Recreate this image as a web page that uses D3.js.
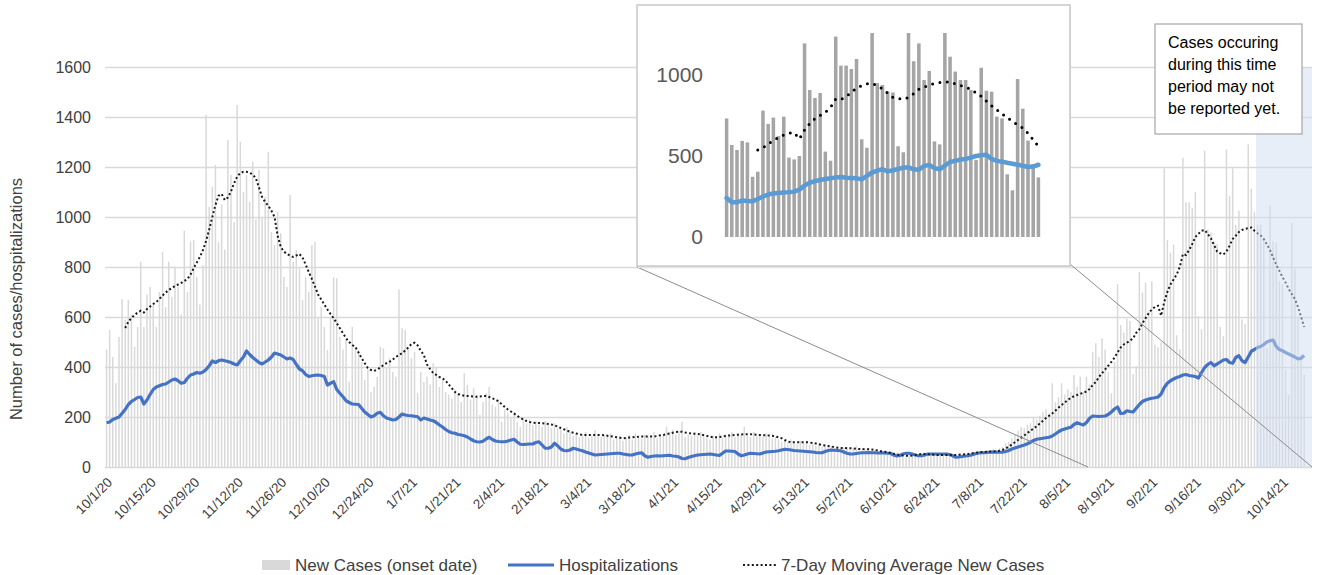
<!DOCTYPE html>
<html>
  <head>
    <meta charset="utf-8">
    <script src="https://cdn.jsdelivr.net/npm/d3@7"></script>
    <style>
      body { margin: 0; background: #ffffff; }
      text { font-family: "Liberation Sans", Arial, sans-serif; }
    </style>
  </head>
  <body>
    <svg width="1319" height="575" id="mainsvg"></svg>
    <script>
        // ---- data, day 0 = 10/1/20 ----
        const tickLabels = ['10/1/20','10/15/20','10/29/20','11/12/20','11/26/20','12/10/20','12/24/20',
            '1/7/21','1/21/21','2/4/21','2/18/21','3/4/21','3/18/21','4/1/21','4/15/21','4/29/21',
            '5/13/21','5/27/21','6/10/21','6/24/21','7/8/21','7/22/21','8/5/21','8/19/21','9/2/21',
            '9/16/21','9/30/21','10/14/21'];
        const tickStep = 14;
        const axisDays = 388;

        const newCases = [
            470,548,440,335,520,671,590, 668,610,480,560,821,560,690, 720,650,560,700,861,640,821,
            680,801,720,610,945,700,901, 908,760,650,808,1408,1041,1121, 1208,899,1050,870,1308,1168,980,
            1448,1301,1100,1168,1060,1221,990, 1188,995,1080,1261,940,888,1021, 935,760,720,1088,820,868,795,
            668,760,700,888,901,600,641, 560,468,600,759,755,520,470, 508,341,560,480,468,420,348,
            390,300,321,360,481,475,400, 435,380,361,711,555,548,470, 435,460,295,380,340,361,330,
            415,401,320,348,300,290,275, 310,295,260,375,328,270,315, 290,208,260,295,320,250,241,
            270,181,230,215,195,220,180, 161,200,175,190,168,185,170, 160,185,170,155,175,155,150,
            135,160,140,125,135,120,130, 140,118,125,148,130,120,128, 120,135,110,115,125,105,118,
            128,110,135,120,115,130,125, 118,140,115,130,125,161,140, 150,130,145,181,120,130,125,
            140,125,141,120,115,110,125, 120,135,115,130,125,140,120, 135,130,161,125,120,140,125,
            130,120,135,125,115,120,110, 100,105,95,110,100,90,105, 95,105,90,100,85,95,80,
            90,80,85,75,82,70,78, 80,70,75,85,65,72,70, 75,65,70,60,68,55,62,
            58,50,55,45,48,42,50, 45,52,48,55,50,45,52, 48,50,45,52,48,44,50,
            46,52,50,55,52,58,62, 60,65,62,68,64,72,70, 75,80,95,100,115,130,145,
            160,155,168,175,201,190,205, 220,230,215,335,260,280,335, 290,310,300,368,320,
            361,300,361,330,461,495,440,515,470,380,295,420,
            732,568,537,593,584,372,403,780,698,737,623,743,490,479,500,1195,907,858,889,527,471,
            1237,1058,1058,1037,1099,603,551,1265,950,938,898,892,560,523,1270,1085,1195,969,1025,590,
            572,1290,1113,1021,969,969,907,475,1045,903,897,743,732,387,288,975,792,595,450,368
        ];

        const hospitalizations = [
            177,180,190,195,200,215,230,250,262,270, 278,280,252,268,290,310,320,325,330,332,
            340,348,352,345,335,338,355,368,372,378, 375,380,390,405,424,418,425,428,425,422,
            418,412,408,425,440,464,450,438,428,418, 412,420,428,440,456,452,448,440,432,436,
            430,410,392,385,370,362,365,367,368,366, 362,328,335,341,310,295,281,265,258,252,
            251,250,235,220,210,200,205,215,219,205, 196,192,188,190,200,212,208,206,205,203,
            201,188,196,192,188,185,178,168,160,150, 142,137,135,130,128,125,120,112,105,101,
            100,103,112,119,110,104,102,101,101,104, 108,111,100,91,90,91,92,92,98,101,
            88,75,75,80,95,85,72,66,65,68, 75,72,68,65,60,56,52,48,49,50,
            51,52,53,54,55,55,52,50,48,48, 52,55,57,45,39,42,44,45,44,45,
            46,47,44,43,40,34,33,38,42,45, 48,49,50,51,52,50,48,46,55,64,
            64,63,62,52,45,48,52,55,54,53, 52,56,60,61,62,63,65,68,71,70,
            68,66,65,64,63,62,61,60,58,57, 57,62,66,68,67,66,65,60,55,52,
            52,54,56,57,57,58,57,57,56,57, 56,55,55,48,44,46,52,55,55,52,
            48,45,45,48,52,52,52,52,52,52, 52,50,45,39,40,42,44,45,48,52,
            55,57,57,58,59,60,59,59,59,62, 66,72,76,80,84,88,93,99,106,111,
            113,115,117,119,124,132,141,148,152,156, 159,170,177,172,168,178,195,204,203,202,
            203,204,210,220,232,240,214,215,225,222, 220,235,250,262,268,272,275,277,280,292,
            318,335,345,352,358,362,368,370,366,364, 362,356,378,398,410,418,405,412,420,428,
            430,418,415,438,445,425,418,440,463,470, 478,482,490,500,505,508,482,470,465,458,
            452,446,440,432,435,446
        ];

        // 7-day moving average, first value is day 6
        const movingAvgStart = 6;
        const movingAvg = [
            556,581,596,608,
            618,625,618,632,642,652,660,672,686,698, 708,716,724,730,736,744,752,770,795,818,
            840,868,905,950,1000,1048,1085,1092,1068,1078, 1102,1135,1162,1176,1181,1181,1177,1170,1155,1118,
            1080,1060,1045,1025,1000,925,880,862,852,845, 840,846,852,838,810,780,752,722,690,670,
            650,630,612,595,575,555,535,515,500,488, 480,458,435,415,396,388,384,390,398,408,
            415,421,430,440,448,455,466,478,492,497, 486,465,448,410,392,376,368,360,355,345,
            330,315,300,292,288,285,284,283,282,281, 282,284,284,280,275,270,262,252,240,230,
            222,214,205,196,190,184,180,177,176,176, 175,174,172,170,167,162,156,151,146,141,
            137,134,131,128,128,128,128,128,128,128, 127,125,123,121,119,117,115,116,118,119,
            120,121,122,122,122,122,122,124,127,128, 131,134,137,140,141,141,138,136,134,133,
            132,130,127,124,121,119,119,120,122,124, 126,127,128,129,130,131,131,131,130,129,
            128,127,127,126,125,122,119,115,108,102, 99,99,99,99,99,99,98,96,94,91,
            88,86,84,82,79,77,76,76,75,75, 74,73,72,72,71,71,70,68,66,63,
            61,59,56,53,50,48,46,45,45,46, 48,50,52,52,51,50,49,48,48,48,
            48,48,48,48,49,50,51,52,54,57, 58,59,60,61,62,62,63,65,68,74,
            81,90,99,108,117,126,136,145,154,163, 174,185,196,205,214,225,237,248,258,268,
            277,283,288,293,297,302,312,328,340,360, 375,390,405,420,437,458,478,490,497,505,
            515,537,550,575,595,615,630,640,645,605, 660,700,730,750,770,800,852,848,868,892,
            920,933,945,948,932,915,888,862,855,850, 862,885,912,925,940,948,953,955,958,945,
            935,926,912,890,868,838,810,785,760,738, 712,692,672,640,600,560
        ];

        const yTicks = [0, 200, 400, 600, 800, 1000, 1200, 1400, 1600];
        const insetTicks = [0, 500, 1000];
        const insetStart = 325;      // first day shown in the zoom box
        const insetMaOffset = 6;     // its own average starts on the 7th bar
        const lagStart = 370;        // first day of the "not reported yet" band
        const zoomFrom = 316;        // where the left zoom line meets the axis
        const legendLabels = ['New Cases (onset date)', 'Hospitalizations', '7-Day Moving Average New Cases'];
        const noteLines = ['Cases occuring', 'during this time', 'period may not', 'be reported yet.'];
        const yAxisLabel = 'Number of cases/hospitalizations';

        // ---- layout ----
        const svg = d3.select('#mainsvg');
        const plot = {left: 105, right: 1312, top: 67, bottom: 467};
        const plain = d3.format('d');

        const xScale = d3.scaleLinear()
            .domain([-0.5, axisDays - 0.5])
            .range([plot.left, plot.right]);
        const yScale = d3.scaleLinear()
            .domain([0, 1600])
            .range([plot.bottom, plot.top]);

        const g = svg.append('g').attr('id', 'maingroup');

        // gridlines + y labels
        const yAxis = d3.axisLeft(yScale)
            .tickValues(yTicks)
            .tickFormat(plain)
            .tickSize(-(plot.right - plot.left))
            .tickPadding(14);
        const yAxisGroup = g.append('g')
            .attr('transform', `translate(${plot.left}, 0)`)
            .call(yAxis);
        yAxisGroup.selectAll('.domain').remove();
        yAxisGroup.selectAll('.tick line').attr('stroke', '#d9d9d9').attr('stroke-width', 1.3);
        yAxisGroup.selectAll('.tick text')
            .attr('font-size', 16).attr('fill', '#404040')
            .style('font-family', '"Liberation Sans", Arial, sans-serif');

        g.append('text')
            .attr('transform', `translate(22, ${(plot.top + plot.bottom) / 2 + 32}) rotate(-90)`)
            .attr('text-anchor', 'middle')
            .attr('font-size', 16.5)
            .attr('fill', '#404040')
            .text(yAxisLabel);

        // x labels, rotated
        const xAxis = d3.axisBottom(xScale)
            .tickValues(tickLabels.map((d, i) => i * tickStep))
            .tickFormat((d, i) => tickLabels[i])
            .tickSize(0);
        const xAxisGroup = g.append('g')
            .attr('transform', `translate(0, ${plot.bottom})`)
            .call(xAxis);
        xAxisGroup.selectAll('.domain').remove();
        xAxisGroup.selectAll('.tick text')
            .attr('font-size', 13.5).attr('fill', '#404040')
            .attr('text-anchor', 'end')
            .attr('dy', 0)
            .attr('transform', 'translate(4, 14) rotate(-45)');

        // bars
        g.append('g').selectAll('rect')
            .data(newCases)
            .enter().append('rect')
            .attr('x', (d, i) => xScale(i) - 0.75)
            .attr('width', 1.5)
            .attr('y', d => yScale(d))
            .attr('height', d => yScale(0) - yScale(d))
            .attr('fill', '#d9d9d9');

        // hospitalizations
        const hospLine = d3.line()
            .x((d, i) => xScale(i))
            .y(d => yScale(d));
        g.append('path')
            .datum(hospitalizations)
            .attr('d', hospLine)
            .attr('fill', 'none')
            .attr('stroke', '#4472c4')
            .attr('stroke-width', 3.2)
            .attr('stroke-linejoin', 'round');

        // 7-day average
        const maLine = d3.line()
            .x((d, i) => xScale(i + movingAvgStart))
            .y(d => yScale(d));
        g.append('path')
            .datum(movingAvg)
            .attr('d', maLine)
            .attr('fill', 'none')
            .attr('stroke', '#1a1a1a')
            .attr('stroke-width', 2)
            .attr('stroke-dasharray', '2,2.4');

        // "may not be reported yet" band
        g.append('rect')
            .attr('x', xScale(lagStart - 0.5))
            .attr('y', plot.top)
            .attr('width', plot.right - xScale(lagStart - 0.5))
            .attr('height', plot.bottom - plot.top)
            .attr('fill', '#d2def0')
            .attr('opacity', 0.5);

        // zoom box
        const box = {left: 637, top: 5, right: 1070, bottom: 266};
        g.append('line')
            .attr('x1', box.left).attr('y1', box.bottom + 1)
            .attr('x2', xScale(zoomFrom - 0.5)).attr('y2', plot.bottom)
            .attr('stroke', '#8c8c8c').attr('stroke-width', 1);
        g.append('line')
            .attr('x1', box.right).attr('y1', box.bottom - 2)
            .attr('x2', plot.right).attr('y2', plot.bottom)
            .attr('stroke', '#8c8c8c').attr('stroke-width', 1);

        const inset = svg.append('g').attr('id', 'insetgroup');
        inset.append('rect')
            .attr('x', box.left + 1).attr('y', box.top + 2)
            .attr('width', box.right - box.left).attr('height', box.bottom - box.top)
            .attr('fill', '#e6e6e6');
        inset.append('rect')
            .attr('x', box.left).attr('y', box.top)
            .attr('width', box.right - box.left).attr('height', box.bottom - box.top)
            .attr('fill', '#ffffff')
            .attr('stroke', '#c8c8c8').attr('stroke-width', 1.5);

        const insetCases = newCases.slice(insetStart);
        const insetHosp = hospitalizations.slice(insetStart);
        const insetMa = movingAvg.slice(insetStart + insetMaOffset - movingAvgStart);

        const ixScale = d3.scaleLinear()
            .domain([-0.5, insetCases.length - 0.5])
            .range([724, 1041]);
        const iyScale = d3.scaleLinear()
            .domain([0, 1000])
            .range([237, 75]);
        const insetTop = 33;

        inset.append('defs').append('clipPath').attr('id', 'insetclip')
            .append('rect')
            .attr('x', 700).attr('y', insetTop)
            .attr('width', 360).attr('height', 237 - insetTop + 2);

        const iyAxis = d3.axisLeft(iyScale)
            .tickValues(insetTicks)
            .tickFormat(plain)
            .tickSize(0)
            .tickPadding(0);
        const iyGroup = inset.append('g')
            .attr('transform', 'translate(703, 0)')
            .call(iyAxis);
        iyGroup.selectAll('.domain').remove();
        iyGroup.selectAll('.tick text')
            .attr('font-size', 21).attr('fill', '#595959')
            .style('font-family', '"Liberation Sans", Arial, sans-serif');

        const ibw = (ixScale(1) - ixScale(0)) * 0.68;
        inset.append('g').attr('clip-path', 'url(#insetclip)')
            .selectAll('rect')
            .data(insetCases)
            .enter().append('rect')
            .attr('x', (d, i) => ixScale(i) - ibw / 2)
            .attr('width', ibw)
            .attr('y', d => iyScale(d))
            .attr('height', d => iyScale(0) - iyScale(d))
            .attr('fill', '#a5a5a5');

        inset.append('path')
            .datum(insetHosp)
            .attr('d', d3.line().x((d, i) => ixScale(i)).y(d => iyScale(d)))
            .attr('fill', 'none')
            .attr('stroke', '#5b9bd5')
            .attr('stroke-width', 4.5)
            .attr('stroke-linejoin', 'round')
            .attr('stroke-linecap', 'round');

        inset.append('path')
            .datum(insetMa)
            .attr('d', d3.line().x((d, i) => ixScale(i + insetMaOffset)).y(d => iyScale(d)))
            .attr('fill', 'none')
            .attr('stroke', '#000000')
            .attr('stroke-width', 3)
            .attr('stroke-linecap', 'round')
            .attr('stroke-dasharray', '0,7.4');

        // note box
        const note = svg.append('g').attr('id', 'notegroup');
        note.append('rect')
            .attr('x', 1155).attr('y', 24)
            .attr('width', 147).attr('height', 110)
            .attr('fill', '#ffffff')
            .attr('stroke', '#a6a6a6').attr('stroke-width', 1.2);
        note.selectAll('text')
            .data(noteLines)
            .enter().append('text')
            .attr('x', 1168)
            .attr('y', (d, i) => 48 + i * 22)
            .attr('font-size', 16)
            .attr('fill', '#000000')
            .style('font-family', '"Liberation Sans Narrow", "Liberation Sans", sans-serif')
            .text(d => d);

        // legend
        const legend = svg.append('g').attr('id', 'legend');
        const legY = 565;
        const legX = [262, 508, 743];
        const swatchW = [28, 46, 33];
        legend.append('rect')
            .attr('x', legX[0]).attr('y', legY - 5)
            .attr('width', swatchW[0]).attr('height', 10)
            .attr('fill', '#d9d9d9');
        legend.append('line')
            .attr('x1', legX[1]).attr('x2', legX[1] + swatchW[1])
            .attr('y1', legY).attr('y2', legY)
            .attr('stroke', '#4472c4').attr('stroke-width', 3.2);
        legend.append('line')
            .attr('x1', legX[2]).attr('x2', legX[2] + swatchW[2])
            .attr('y1', legY).attr('y2', legY)
            .attr('stroke', '#1a1a1a').attr('stroke-width', 2)
            .attr('stroke-dasharray', '2,2.4');
        legend.selectAll('text')
            .data(legendLabels)
            .enter().append('text')
            .attr('x', (d, i) => legX[i] + swatchW[i] + 5)
            .attr('y', legY + 6)
            .attr('font-size', 17)
            .attr('fill', '#404040')
            .text(d => d);
    </script>
  </body>
</html>
